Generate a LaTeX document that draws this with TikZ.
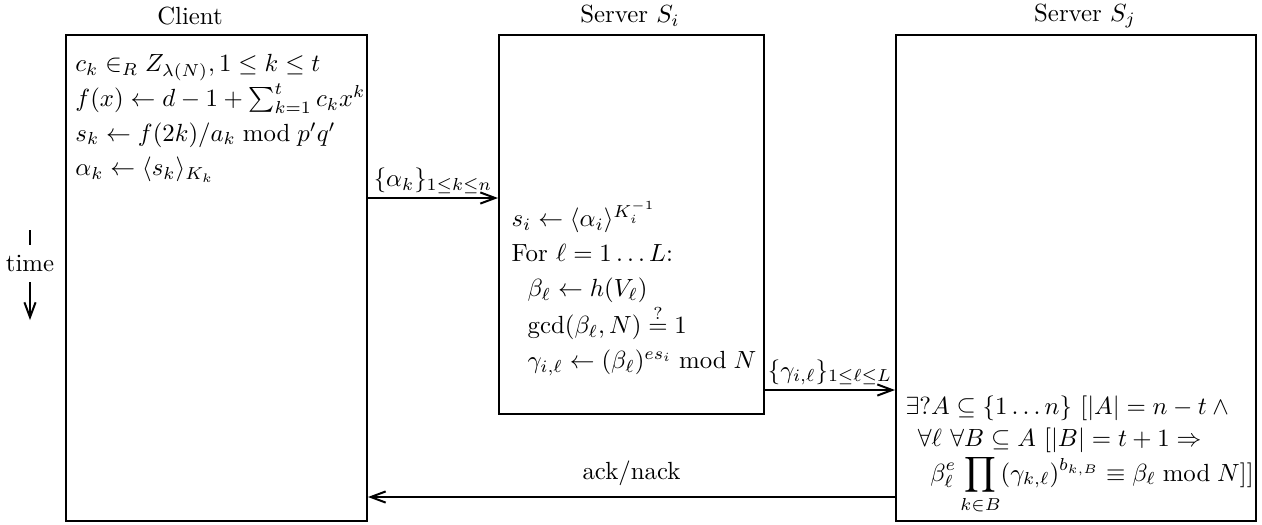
\documentclass[tikz,border=0pt]{standalone}
\usepackage{amssymb, amsmath}
\usetikzlibrary{arrows, arrows.meta}

\begin{document}
\begin{tikzpicture}[x = 0.01416cm, y = -0.01416cm]
\tikzstyle{BoxStyle}=[draw, thick, anchor = north west, inner sep = 0pt]
\tikzstyle{TextStyle}=[anchor = north west, align = left, inner sep = 0pt,
                       font = \fontsize{10}{14}\selectfont]
\tikzstyle{MsgStyle}=[->, thick, >={Straight Barb[length = 6pt, width = 4.5pt]}]
\useasboundingbox (0, 0) rectangle (1262, 524);
\node at (190, 16) (hc) {Client};
\node at (630, 16) (hi) {Server $S_i$};
\node at (1085, 16) (hj) {Server $S_j$};
\node[BoxStyle, minimum width = 4.262cm, minimum height = 6.882cm] at (65, 34) (client) {};
\node[BoxStyle, minimum width = 3.752cm, minimum height = 5.367cm] at (498, 34) (si) {};
\node[BoxStyle, minimum width = 5.098cm, minimum height = 6.882cm] at (895, 34) (sj) {};
\node[TextStyle] at (75, 54) (tc) {%
$c_k \in_R Z_{\lambda(N)}, 1 \le k \le t$\\
$f(x) \leftarrow d - 1 + \sum_{k=1}^{t} c_k x^k$\\
$s_k \leftarrow f(2k)/a_k \bmod p'q'$\\
$\alpha_k \leftarrow \langle s_k \rangle_{K_k}$};
\node[TextStyle] at (511, 201) (ti) {%
$s_i \leftarrow \langle \alpha_i \rangle^{K_i^{-1}}$\\
For $\ell = 1 \ldots L$:\\
\hspace*{0.65em}$\beta_\ell \leftarrow h(V_\ell)$\\
\hspace*{0.65em}$\gcd(\beta_\ell, N) \stackrel{?}{=} 1$\\
\hspace*{0.65em}$\gamma_{i,\ell} \leftarrow (\beta_\ell)^{es_i} \bmod N$};
\node[TextStyle, font = \fontsize{10}{13}\selectfont] at (905, 395) (tj) {%
$\exists ?A \subseteq \{1 \ldots n\}\ [|A| = n - t \wedge {}$\\
\hspace*{0.5em}$\forall \ell\ \forall B \subseteq A\ [|B| = t + 1 \Rightarrow$\\
\hspace*{1em}$\displaystyle \beta_\ell^e \prod_{k \in B} (\gamma_{k,\ell})^{b_{k,B}} \equiv \beta_\ell \bmod N]]$};
\coordinate (m1) at (0, 198);
\coordinate (m2) at (0, 390);
\coordinate (m3) at (0, 497);
\draw[MsgStyle] (client.east |- m1) -- node[above, inner sep = 1.5pt] {$\{\alpha_k\}_{1 \le k \le n}$} (si.west |- m1);
\draw[MsgStyle] (si.east |- m2) -- node[above, inner sep = 1.5pt] {$\{\gamma_{i,\ell}\}_{1 \le \ell \le L}$} (sj.west |- m2);
\draw[MsgStyle] (sj.west |- m3) -- node[above, inner sep = 4pt] {ack/nack} (client.east |- m3);
\node at (30, 263) (time) {time};
\coordinate (t0) at (30, 230);
\coordinate (t1) at (30, 282);
\draw[thick] (t0) -- (t0 |- 0, 245);
\draw[MsgStyle] (t1) -- (t1 |- 0, 320);
\end{tikzpicture}
\end{document}
